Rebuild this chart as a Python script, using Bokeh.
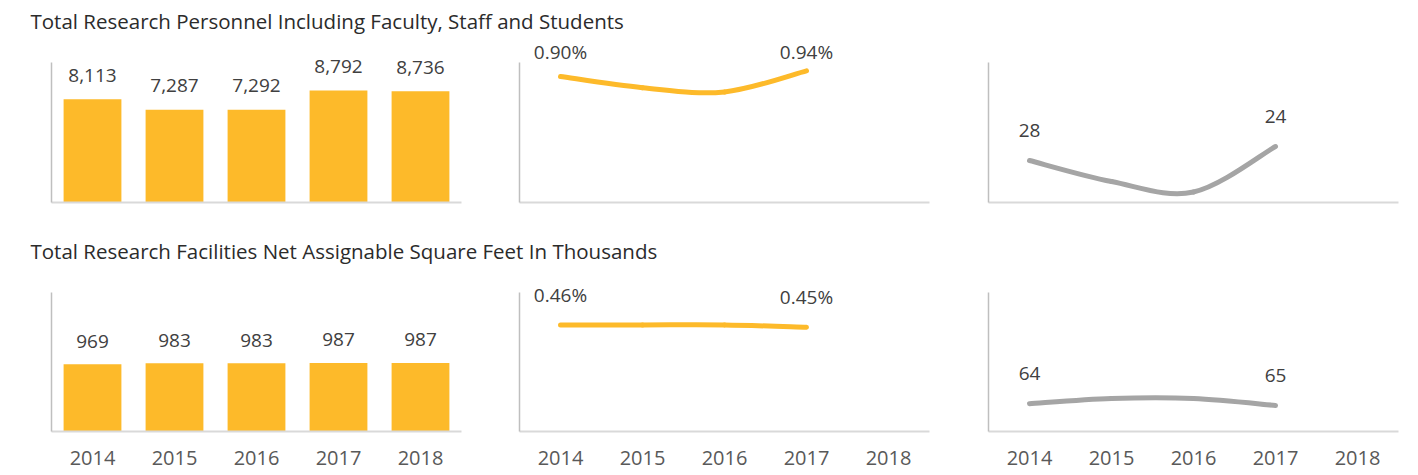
import numpy as np
from bokeh.plotting import figure
from bokeh.models import Range1d, FixedTicker, LabelSet, ColumnDataSource, Label
from bokeh.layouts import column, row
from bokeh.core.properties import value
from bokeh.embed import file_html
from bokeh.resources import INLINE

# ---------------- data ----------------
years = ["2014", "2015", "2016", "2017", "2018"]
title_personnel = "Total Research Personnel Including Faculty, Staff and Students"
title_facilities = "Total Research Facilities Net Assignable Square Feet In Thousands"

personnel = [8113, 7287, 7292, 8792, 8736]          # bars 2014-2018
personnel_share = [0.90, 0.82, 0.79, 0.94]          # percent, 2014-2017
personnel_rank = [28, 34, 37, 24]                   # rank, 2014-2017

facilities = [969, 983, 983, 987, 987]              # bars 2014-2018
facilities_share = [0.46, 0.46, 0.46, 0.45]         # percent, 2014-2017
facilities_rank = [64, 61, 61, 65]                  # rank, 2014-2017

# ---------------- style ----------------
FONT = "Open Sans"
YELLOW = "#FDBA2A"
GRAY = "#A5A5A5"
LABEL_C = "#404040"
TICK_C = "#595959"
TITLE_C = "#2B2B2B"
FW = 410
EXTRA = 24   # px of frame above the axis top, room for data labels


def smooth_segments(xs, ys, t=1.0 / 6.0):
    xs = np.asarray(xs, float)
    ys = np.asarray(ys, float)
    n = len(xs)
    px = np.concatenate([[xs[0]], xs, [xs[-1]]])
    py = np.concatenate([[ys[0]], ys, [ys[-1]]])
    i = np.arange(n - 1)
    return dict(
        x0=px[i + 1], y0=py[i + 1], x1=px[i + 2], y1=py[i + 2],
        cx0=px[i + 1] + (px[i + 2] - px[i]) * t,
        cy0=py[i + 1] + (py[i + 2] - py[i]) * t,
        cx1=px[i + 2] - (px[i + 3] - px[i + 1]) * t,
        cy1=py[i + 2] - (py[i + 3] - py[i + 1]) * t,
    )


def base_fig(left, right, bottom, fh, lo, hi, show_x):
    # lo: value at the bottom of the axis, hi: value at the top of the axis
    end = hi + (hi - lo) * EXTRA / fh
    p = figure(frame_width=FW, frame_height=fh + EXTRA,
               min_border_left=left, min_border_right=right,
               min_border_top=0, min_border_bottom=bottom,
               x_range=Range1d(-0.5, 4.5), y_range=Range1d(lo, end),
               output_backend="svg", toolbar_location=None, tools="")
    p.outline_line_color = None
    p.grid.visible = False
    ya = p.yaxis[0]
    ya.ticker = FixedTicker(ticks=[])
    ya.bounds = (min(lo, hi), max(lo, hi))
    ya.axis_line_color = "#BFBFBF"
    ya.axis_line_width = 1.5
    ya.major_tick_line_color = None
    ya.minor_tick_line_color = None
    xa = p.xaxis[0]
    xa.axis_line_color = "#D9D9D9"
    xa.axis_line_width = 2
    xa.major_tick_line_color = None
    xa.minor_tick_line_color = None
    xa.major_tick_out = 0
    xa.major_tick_in = 0
    if show_x:
        xa.ticker = FixedTicker(ticks=list(range(len(years))))
        xa.major_label_overrides = {i: y for i, y in enumerate(years)}
        xa.major_label_text_font = FONT
        xa.major_label_text_font_size = "20px"
        xa.major_label_text_color = TICK_C
        xa.major_label_standoff = 19
    else:
        xa.ticker = FixedTicker(ticks=[])
    return p


def labels(p, xs, ys, texts, off):
    src = ColumnDataSource(dict(x=list(xs), y=list(ys), text=list(texts)))
    p.add_layout(LabelSet(x="x", y="y", text="text", source=src, y_offset=off,
                          text_align="center", text_baseline="middle",
                          text_font=value(FONT), text_font_size="19px",
                          text_color=LABEL_C))


def bar_panel(vals, ymax, bottom, fh, show_x, off):
    p = base_fig(51, 23, bottom, fh, 0, ymax, show_x)
    idx = list(range(len(vals)))
    p.vbar(x=idx, top=vals, width=0.705, bottom=0, fill_color=YELLOW, line_color=None)
    labels(p, idx, vals, [f"{v:,}" for v in vals], off)
    return p


def line_panel(vals, lo, hi, color, left, right, bottom, fh, show_x, fmt, lab_y=None, off=30):
    p = base_fig(left, right, bottom, fh, lo, hi, show_x)
    idx = list(range(len(vals)))
    seg = smooth_segments(idx, vals)
    p.bezier(source=ColumnDataSource(seg), x0="x0", y0="y0", x1="x1", y1="y1",
             cx0="cx0", cy0="cy0", cx1="cx1", cy1="cy1",
             line_color=color, line_width=5, line_cap="round")
    ends = [0, len(vals) - 1]
    ly = [vals[i] for i in ends] if lab_y is None else [lab_y for _ in ends]
    labels(p, ends, ly, [fmt(vals[i]) for i in ends], off)
    return p


def title_fig(text, h, ytext):
    p = figure(width=1410, height=h, x_range=Range1d(0, 1410), y_range=Range1d(0, h),
               min_border=0, x_axis_type=None, y_axis_type=None,
               output_backend="svg", toolbar_location=None, tools="")
    p.outline_line_color = None
    p.grid.visible = False
    p.add_layout(Label(x=30, y=h - ytext, text=text, text_baseline="middle",
                       text_align="left", text_font=FONT, text_font_size="20.5px",
                       text_color=TITLE_C))
    return p


pct = lambda v: f"{v:.2f}%"
num = lambda v: f"{v:d}"

t1 = title_fig(title_personnel, 38, 20)
r1 = row(
    bar_panel(personnel, 11000, 30, 140, False, 24),
    line_panel(personnel_share, 0, 1.0, YELLOW, 35, 23, 30, 140, False, pct,
               lab_y=1.0, off=11),
    line_panel(personnel_rank, 40, 0, GRAY, 36, 12, 30, 140, False, num),
)
t2 = title_fig(title_facilities, 36, 18)
r2 = row(
    bar_panel(facilities, 2000, 44, 139, True, 23),
    line_panel(facilities_share, 0, 0.6, YELLOW, 35, 23, 44, 139, True, pct),
    line_panel(facilities_rank, 80, 0, GRAY, 36, 12, 44, 139, True, num),
)

layout = column(t1, r1, t2, r2)
open("out.html", "w").write(file_html(layout, INLINE))
